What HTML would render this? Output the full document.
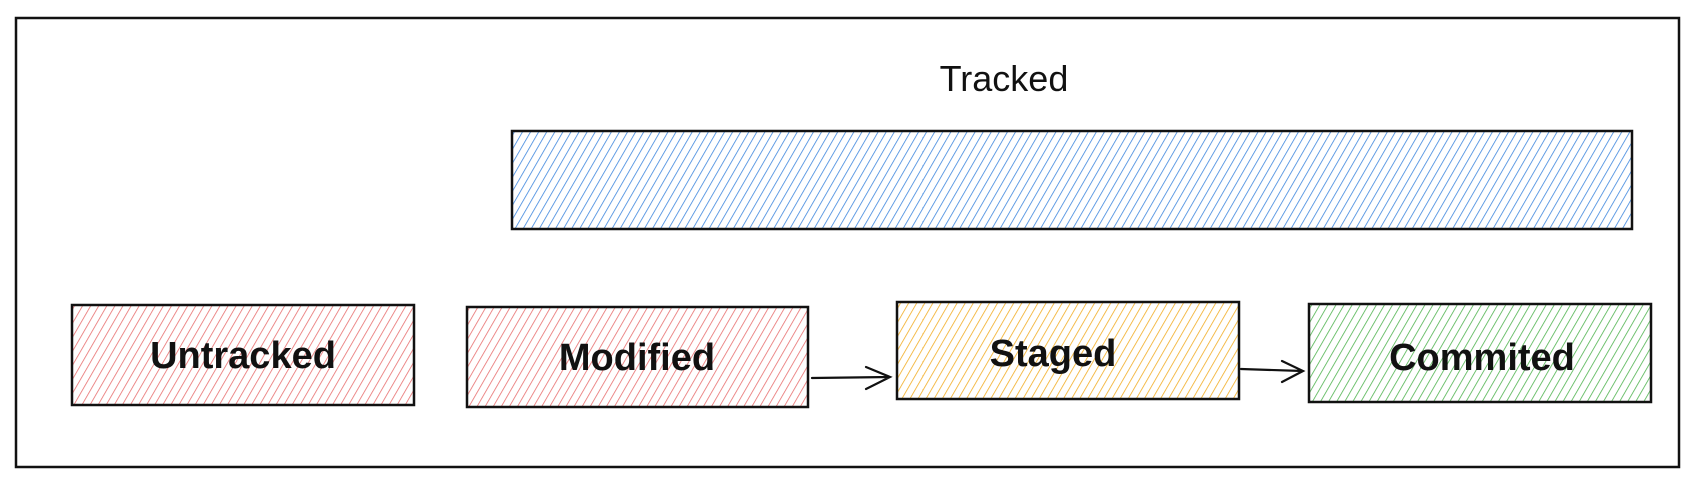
<!DOCTYPE html>
<html><head><meta charset="utf-8"><style>
html,body{margin:0;padding:0;background:#fff;width:1702px;height:490px;overflow:hidden}
text{font-family:"Liberation Sans",sans-serif;fill:#111}
</style></head><body>
<svg width="1702" height="490" viewBox="0 0 1702 490" xmlns="http://www.w3.org/2000/svg">
<defs>
<pattern id="pb" width="7" height="8" patternUnits="userSpaceOnUse" patternTransform="rotate(30)"><line x1="0" y1="0" x2="0" y2="8" stroke="#3d86de" stroke-width="1.6"/></pattern>
<pattern id="pr" width="7" height="8" patternUnits="userSpaceOnUse" patternTransform="rotate(30)"><line x1="0" y1="0" x2="0" y2="8" stroke="#e86f6f" stroke-width="1.6"/></pattern>
<pattern id="py" width="7" height="8" patternUnits="userSpaceOnUse" patternTransform="rotate(30)"><line x1="0" y1="0" x2="0" y2="8" stroke="#f2ac22" stroke-width="1.6"/></pattern>
<pattern id="pg" width="7" height="8" patternUnits="userSpaceOnUse" patternTransform="rotate(30)"><line x1="0" y1="0" x2="0" y2="8" stroke="#4fb34f" stroke-width="1.6"/></pattern>
</defs>
<rect x="16" y="18" width="1663" height="449" fill="none" stroke="#111" stroke-width="2.5"/>
<text x="1004" y="91" font-size="36" text-anchor="middle">Tracked</text>
<rect x="512" y="131" width="1120" height="98" fill="url(#pb)" stroke="#111" stroke-width="2.5"/>
<rect x="72" y="305" width="342" height="100" fill="url(#pr)" stroke="#111" stroke-width="2.5"/>
<rect x="467" y="307" width="341" height="100" fill="url(#pr)" stroke="#111" stroke-width="2.5"/>
<rect x="897" y="302" width="342" height="97" fill="url(#py)" stroke="#111" stroke-width="2.5"/>
<rect x="1309" y="304" width="342" height="98" fill="url(#pg)" stroke="#111" stroke-width="2.5"/>
<text x="243" y="368" font-size="38" font-weight="bold" text-anchor="middle">Untracked</text>
<text x="637" y="370" font-size="38" font-weight="bold" text-anchor="middle">Modified</text>
<text x="1053" y="366" font-size="38" font-weight="bold" text-anchor="middle">Staged</text>
<text x="1482" y="370" font-size="38" font-weight="bold" text-anchor="middle">Commited</text>
<g stroke="#111" stroke-width="2.2" fill="none" stroke-linecap="round">
<path d="M812 378 L890 377 M866 367 L890 377 L866 389"/>
<path d="M1241 369 L1303 371 M1282 361 L1303 371 L1282 382"/>
</g>
</svg>
</body></html>
